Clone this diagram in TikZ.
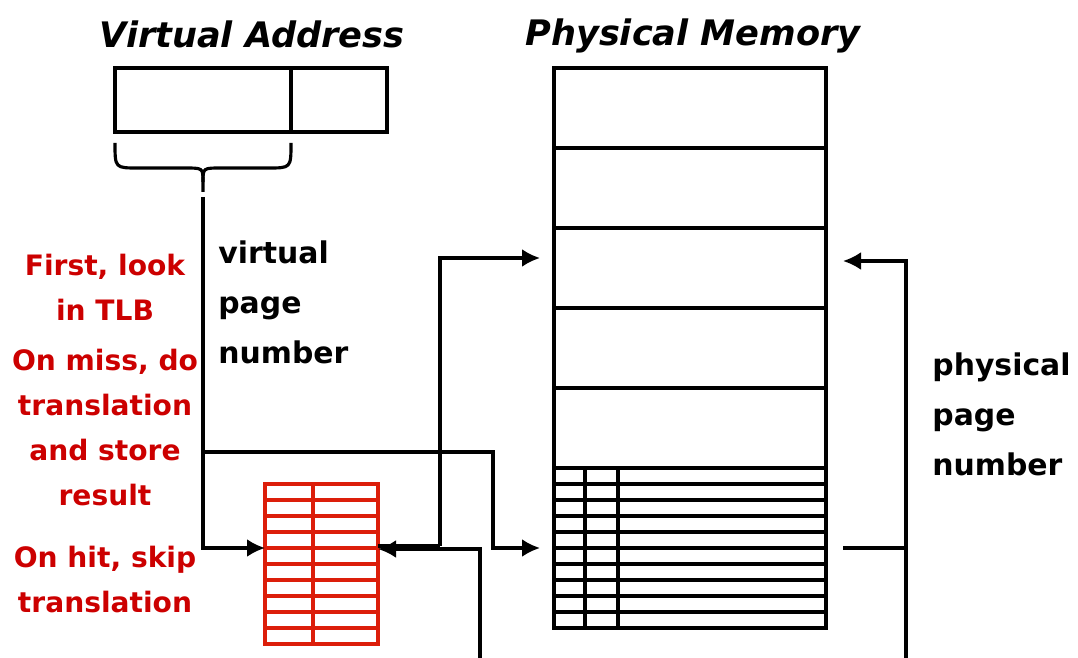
\documentclass[tikz,border=0pt]{standalone}
\usepackage{fontspec}
\setmainfont{DejaVu Sans}
\usetikzlibrary{calc}
\usetikzlibrary{arrows.meta}
\definecolor{tlbred}{RGB}{220,30,10}
\definecolor{notered}{RGB}{204,0,0}

\begin{document}
\begin{tikzpicture}[x=0.02cm,y=-0.02cm,
    wire/.style={line width=1.8pt},
    ptr/.style={wire,-{Latex[length=0.36cm,width=0.36cm]}},
    tablegrid/.style={line width=1.8pt},
    heading/.style={font=\bfseries\itshape\fontsize{20}{24}\selectfont,anchor=base},
    sidetext/.style={font=\bfseries\fontsize{17}{28.45}\selectfont,align=left,anchor=north west,inner sep=0pt},
    hint/.style={font=\bfseries\fontsize{16}{25.6}\selectfont,text=notered,align=center,anchor=north,inner sep=0pt}]
  \useasboundingbox (0,0) rectangle (1078,658);
    \coordinate (VA0) at (115,68);
    \coordinate (VA1) at (387,132);
    \coordinate (VA2) at (291,68);
    \coordinate (VA3) at (291,132);
    \coordinate (PM0) at (554,68);
    \coordinate (PM1) at (826,628);
    \coordinate (TLB0) at (265,484);
    \coordinate (TLB1) at (378,644);
    \coordinate (BR0) at (203,182);
    \coordinate (BR1) at (203,192);
    \coordinate (V0) at (203,197);
    \coordinate (V1) at (203,452);
    \coordinate (M0) at (493,452);
    \coordinate (M1) at (540,548);
    \coordinate (TI) at (265,548);
    \coordinate (TO) at (378,546);
    \coordinate (T1) at (440,546);
    \coordinate (F2) at (540,258);
    \coordinate (TR) at (378,549);
    \coordinate (B0) at (480,658);
    \coordinate (P0) at (843,548);
    \coordinate (P1) at (906,548);
    \coordinate (P2) at (906,658);
    \coordinate (P3) at (843,261);
      % virtual address
      \draw [wire] (VA0) rectangle (VA1);
      \draw [wire] (VA2) -- (VA3);
      \draw [wire] (115,143) .. controls (115,168) .. (138,168) -- (185,168)
        .. controls (203,168) .. (BR0) -- (BR1);
      \draw [wire] (291,143) .. controls (291,168) .. (268,168) -- (221,168)
        .. controls (203,168) .. (BR0);
      % physical memory and page table
      \draw [wire] (PM0) rectangle (PM1);
      \foreach \y in {148,228,308,388,468}
        \draw [wire] (554,\y) -- (826,\y);
      \foreach \y in {484,500,...,612}
        \draw [tablegrid] (554,\y) -- (826,\y);
      \draw [tablegrid] (585,468) -- (585,628);
      \draw [tablegrid] (618,468) -- (618,628);
      % TLB
      \draw [tablegrid,tlbred] (TLB0) rectangle (TLB1);
      \foreach \y in {500,516,...,628}
        \draw [tablegrid,tlbred] (265,\y) -- (378,\y);
      \draw [tablegrid,tlbred] (313,484) -- (313,644);
      % connectors
      \draw [ptr] (V0) |- (TI);
      \draw [ptr] (V1) -- (M0) |- (M1);
      \draw [wire] (TO) -- (T1);
      \draw [ptr] (T1) |- (F2);
      \draw [ptr] (B0) |- (TR);
      \draw [wire] (P0) -- (P1);
      \draw [ptr] (P2) |- (P3);
      % texts
      \node [heading] (vatitle) at (252,48) {Virtual Address};
      \node [heading] (pmtitle) at (693,46) {Physical Memory};
      \node [sidetext] (vpn) at (218,240) {virtual\\page\\number};
      \node [sidetext] (ppn) at (932,352) {physical\\page\\number};
      \node [hint] (look) at (105,254) {First, look\\in TLB};
      \node [hint] (miss) at (105,349) {On miss, do\\translation\\and store\\result};
      \node [hint] (hit) at (105,546) {On hit, skip\\translation};
  \end{tikzpicture}
\end{document}
